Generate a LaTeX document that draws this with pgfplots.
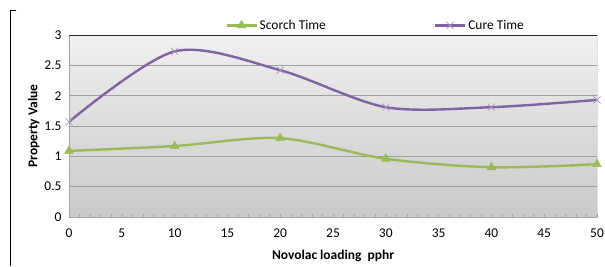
\documentclass[border=0pt]{standalone}
\usepackage{pgfplots}
\pgfplotsset{compat=1.18}
\usepackage{fontspec}
\setmainfont{Carlito}
\definecolor{scorch}{HTML}{9BBB59}
\definecolor{cure}{HTML}{8064A2}
\definecolor{curemark}{HTML}{A894C4}
\begin{document}
\begin{tikzpicture}[x=1bp,y=1bp]
\useasboundingbox (0,0) rectangle (605,266);
\draw[black, line width=0.8bp] (16,256) -- (10,256) -- (10,0);
\begin{axis}[
  at={(69bp,49bp)}, anchor=south west,
  scale only axis, width=528bp, height=182bp,
  xmin=0, xmax=50, ymin=0, ymax=3,
  xtick={0,5,...,50}, ytick={0,0.5,...,3},
  yticklabels={0,0.5,1,1.5,2,2.5,3},
  minor x tick num=4,
  xtick pos=bottom, ytick pos=left,
  tick align=inside,
  major tick length=3bp, minor tick length=3bp,
  every tick/.style={gray!70, line width=0.4bp},
  ytick style={draw=none},
  ymajorgrids, grid style={gray!75, line width=0.8bp},
  axis line style={draw=none},
  axis background/.style={shade, top color=gray!12, bottom color=gray!42},
  tick label style={font=\fontsize{13.5}{15}\selectfont, /pgf/number format/assume math mode=true},
  xticklabel style={yshift=-8bp},
  yticklabel style={xshift=-4bp},
  label style={font=\fontsize{13.5}{15}\selectfont\bfseries},
  xlabel={Novolac loading\ \ pphr},
  ylabel={Property Value},
  xlabel style={yshift=-6bp},
  ylabel style={yshift=-2bp},
  legend columns=2,
  legend style={at={(0.29,1.0)}, anchor=south west, draw=none, fill=none,
    font=\fontsize{13.5}{15}\selectfont, /tikz/every even column/.append style={column sep=106bp}},
  legend cell align=left,
  legend image code/.code={\draw[#1] (0bp,0bp) -- (30bp,0bp); \draw[#1, only marks] plot coordinates {(15bp,0bp)};},
]
\addplot[scorch, line width=2.4bp, smooth, tension=0.5, mark=triangle*, mark size=5bp, mark options={fill=scorch, draw=scorch, line width=0.5bp}]
coordinates {(0,1.09) (10,1.17) (20,1.30) (30,0.96) (40,0.82) (50,0.87)};
\addlegendentry{Scorch Time}
\addplot[cure, line width=2.4bp, smooth, tension=0.5, mark=x, mark size=5bp, mark options={draw=curemark, line width=0.7bp}]
coordinates {(0,1.57) (10,2.73) (20,2.42) (30,1.81) (40,1.81) (50,1.93)};
\addlegendentry{Cure Time}
\draw[gray!70, line width=0.8bp] (rel axis cs:0,1) -- (rel axis cs:0,0) -- (rel axis cs:1,0);
\draw[black!85, line width=0.8bp] (rel axis cs:0,1) -- (rel axis cs:1,1) -- (rel axis cs:1,0);
\end{axis}
\end{tikzpicture}
\end{document}
